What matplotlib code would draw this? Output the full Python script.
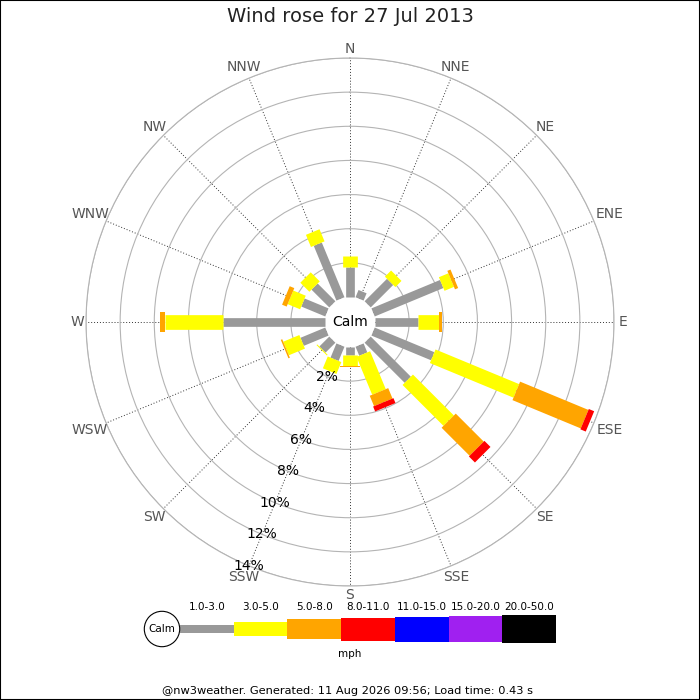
import numpy as np
import matplotlib
matplotlib.use('Agg')
import matplotlib.pyplot as plt
from matplotlib.patches import Circle, Rectangle

# ---------------- data ----------------
directions = ['N', 'NNE', 'NE', 'ENE', 'E', 'ESE', 'SE', 'SSE',
              'S', 'SSW', 'SW', 'WSW', 'W', 'WNW', 'NW', 'NNW']
speed_bins = ['1.0-3.0', '3.0-5.0', '5.0-8.0', '8.0-11.0',
              '11.0-15.0', '15.0-20.0', '20.0-50.0']
bin_colors = ['#999999', '#ffff00', '#ffa500', '#ff0000',
              '#0000ff', '#a020f0', '#000000']
# frequency (%) of each speed bin per direction
freq_1_3 = [1.77, 0.46, 1.86, 4.35, 2.53, 3.78, 3.32, 0.57,
            0.47, 0.90, 0.82, 1.57, 5.95, 1.52, 1.47, 3.47]
freq_3_5 = [0.64, 0.00, 0.51, 0.60, 1.23, 5.30, 3.39, 2.40,
            0.64, 0.75, 0.06, 1.02, 3.41, 0.79, 0.75, 0.77]
freq_5_8 = [0.00, 0.00, 0.00, 0.20, 0.14, 4.33, 2.32, 0.66,
            0.06, 0.00, 0.00, 0.09, 0.33, 0.29, 0.00, 0.00]
freq_8_11 = [0.00, 0.00, 0.00, 0.00, 0.00, 0.34, 0.50, 0.31,
             0.00, 0.00, 0.00, 0.00, 0.00, 0.00, 0.00, 0.00]
freq_11_15 = [0.0] * 16
freq_15_20 = [0.0] * 16
freq_20_50 = [0.0] * 16
ring_values = [2, 4, 6, 8, 10, 12, 14]
ring_labels = ['2%', '4%', '6%', '8%', '10%', '12%', '14%']
title = 'Wind rose for 27 Jul 2013'
footer = '@nw3weather. Generated: 11 Aug 2026 09:56; Load time: 0.43 s'
unit_label = 'mph'

freqs = [freq_1_3, freq_3_5, freq_5_8, freq_8_11,
         freq_11_15, freq_15_20, freq_20_50]

# ---------------- style ----------------
W = H = 700
CX, CY = 350, 322
R_PX = 264          # radius of outer ring (px)
CALM_PX = 25        # radius of calm circle (px)
bar_px = [8.7, 14.7, 20, 22, 25, 26.5, 28]
bar_lw = [p * 72 / 100 for p in bar_px]
legend_h = [8, 14, 20, 23, 25, 26.5, 28]

fig = plt.figure(figsize=(7, 7), dpi=100)
fig.patch.set_facecolor('white')

ax = fig.add_axes([(CX - R_PX) / W, (H - CY - R_PX) / H, 2 * R_PX / W, 2 * R_PX / H],
                  projection='polar')
ax.set_theta_zero_location('N')
ax.set_theta_direction(-1)
rmax = ring_values[-1]
origin = CALM_PX / (R_PX - CALM_PX) * rmax
ax.set_ylim(0, rmax)
ax.set_rorigin(-origin)


def px_to_r(px):
    return px / R_PX * (rmax + origin) - origin


thetas = np.radians(np.arange(16) * 22.5)
ax.set_xticks(thetas)
ax.set_xticklabels([])
ax.set_yticks(ring_values)
ax.set_yticklabels([])
ax.tick_params(length=0)
ax.xaxis.grid(True, color='#333333', linestyle=(0, (1, 2)), linewidth=0.7)
ax.yaxis.grid(True, color='#b4b4b4', linestyle='-', linewidth=0.8)
ax.spines['polar'].set_color('#b4b4b4')
ax.spines['polar'].set_linewidth(0.8)
for sp in ('inner', 'start', 'end'):
    ax.spines[sp].set_visible(False)
    ax.spines[sp].set_linewidth(0)
ax.patch.set_edgecolor('none')
ax.patch.set_linewidth(0)
ax.set_axisbelow(True)

# bars
for i, th in enumerate(thetas):
    cum = 0.0
    for j in range(len(freqs)):
        v = freqs[j][i]
        if v > 0:
            ax.plot([th, th], [cum, cum + v], color=bin_colors[j], lw=bar_lw[j],
                    solid_capstyle='butt', zorder=3 + j, clip_on=False)
            cum += v

# direction labels
for th, name in zip(thetas, directions):
    rp = 273 + 4.5 * (len(name) - 1) * abs(np.sin(th))
    ax.text(th, px_to_r(rp), name, ha='center', va='center', fontsize=10,
            color='#555555', clip_on=False)

# ring labels
for rv, lab in zip(ring_values, ring_labels):
    ax.text(np.radians(202.5), rv, lab, ha='center', va='center', fontsize=10,
            color='black', zorder=10)

ax.text(0.5, 0.5, 'Calm', transform=ax.transAxes, ha='center', va='center',
        fontsize=10, color='black', zorder=12)

# title
fig.text(0.5, 1 - 17 / H, title, ha='center', va='center', fontsize=14, color='#222222')

# ---------------- legend (pixel coordinates) ----------------
lax = fig.add_axes([0, 0, 1, 1])
lax.set_xlim(0, W)
lax.set_ylim(H, 0)
lax.axis('off')
lax.patch.set_visible(False)

LX0, LSEG, LY = 180, 53.7, 629
for j, (lab, col) in enumerate(zip(speed_bins, bin_colors)):
    x0 = LX0 + j * LSEG
    h = legend_h[j]
    lax.add_patch(Rectangle((x0, LY - h / 2), LSEG, h, facecolor=col, edgecolor='none'))
    lax.text(x0 + LSEG / 2, 607, lab, ha='center', va='center', fontsize=7.5, color='black')
lax.add_patch(Circle((162, LY), 17.7, facecolor='white', edgecolor='black', lw=0.8, zorder=5))
lax.text(162, LY, 'Calm', ha='center', va='center', fontsize=7.5, zorder=6)
lax.text(350, 654, unit_label, ha='center', va='center', fontsize=7.5)
lax.text(348, 691, footer, ha='center', va='center', fontsize=8.2)

# border
fig.patches.append(Rectangle((0, 0), 1, 1, transform=fig.transFigure, fill=False,
                             edgecolor='black', linewidth=1.5))

fig.savefig('out.png', dpi=100)
